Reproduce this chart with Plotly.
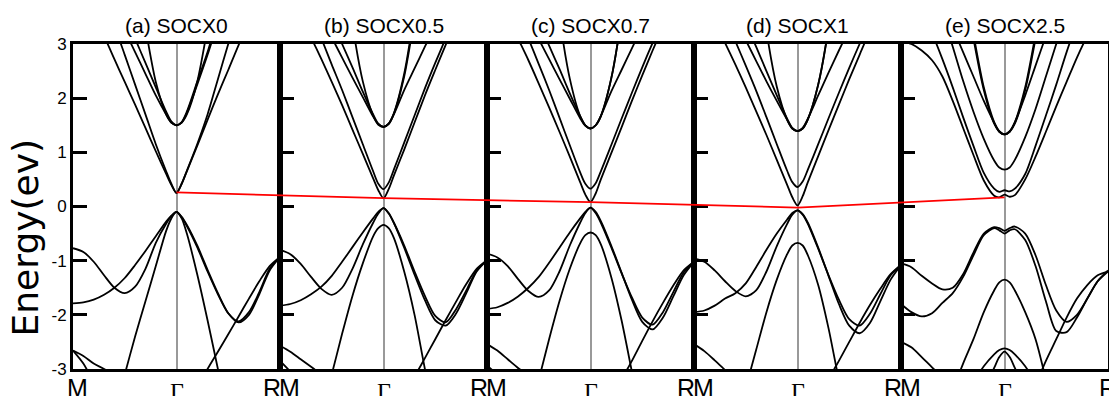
import plotly.graph_objects as go
from plotly.subplots import make_subplots

# k-path sampling: M (0) -> Gamma (1) -> R (2)
K = [0, 0.1, 0.2, 0.3, 0.4, 0.5, 0.6, 0.7, 0.8, 0.9, 0.95, 1.0,
     1.05, 1.1, 1.2, 1.3, 1.4, 1.5, 1.6, 1.7, 1.8, 1.9, 2.0]
N = None

PANEL_TITLES = ["(a) SOCX0", "(b) SOCX0.5", "(c) SOCX0.7", "(d) SOCX1", "(e) SOCX2.5"]
Y_TICKS = [-3, -2, -1, 0, 1, 2, 3]
Y_TICKTEXT = ["-3", "-2", "-1", "0", "1", "2", "3"]
K_LABELS = ["M", "\u0393", "R"]

# red line: band-edge energy at Gamma in each panel
RED_E = [0.26, 0.155, 0.08, -0.02, 0.17]

# ---------------- panel (a) SOCX0 ----------------
a_C1 = [4.3, 3.95, 3.55, 3.15, 2.72, 2.3, 1.88, 1.45, 1.02, 0.6, 0.4, 0.25, 0.42, 0.65, 1.12, 1.6, 2.07, 2.52, 2.98, 3.4, 3.8, 4.2, 4.5]
a_C2 = [5.0, 4.8, 4.5, 4.0, 3.35, 2.8, 2.25, 1.7, 1.15, 0.65, 0.42, 0.25, 0.42, 0.66, 1.15, 1.7, 2.35, 3.0, 3.6, 4.1, 4.5, 4.8, 5.0]
a_C3 = [N, N, N, N, N, 5.5, 4.4, 3.3, 2.3, 1.7, 1.55, 1.5, 1.55, 1.7, 2.3, 3.3, 4.4, 5.5, N, N, N, N, N]
a_C4 = [N, N, N, N, 4.0, 3.55, 3.1, 2.65, 2.2, 1.75, 1.57, 1.5, 1.56, 1.75, 2.3, 2.85, 3.5, 4.1, N, N, N, N, N]
a_C5 = [N, N, N, 4.1, 3.65, 3.25, 2.85, 2.45, 2.05, 1.7, 1.55, 1.5, 1.55, 1.73, 2.25, 2.8, 3.4, 4.0, N, N, N, N, N]
a_V1 = [-0.77, -0.84, -1.02, -1.27, -1.5, -1.6, -1.48, -1.15, -0.67, -0.32, -0.18, -0.1, -0.2, -0.36, -0.75, -1.2, -1.62, -1.97, -2.12, -1.95, -1.58, -1.15, -0.93]
a_V2 = [-1.79, -1.77, -1.72, -1.63, -1.5, -1.32, -1.08, -0.82, -0.55, -0.28, -0.17, -0.1, -0.19, -0.34, -0.72, -1.17, -1.6, -1.97, -2.14, -2.0, -1.62, -1.18, -0.93]
a_V3 = [N, N, N, N, -3.8, -3.1, -2.4, -1.75, -1.1, -0.45, -0.22, -0.1, -0.22, -0.5, -1.25, -2.1, -3.0, -3.9, N, N, N, N, N]
a_V4 = [N, N, N, N, N, N, N, N, N, N, N, N, N, N, -3.4, -3.0, -2.68, -2.36, -2.03, -1.7, -1.38, -1.1, -0.93]
a_V5 = [-2.66, -2.76, -2.9, -3.0, -3.12, -3.25, N, N, N, N, N, N, N, N, N, N, N, N, N, N, N, N, N]
a_V6 = [-2.66, -2.9, -3.25, N, N, N, N, N, N, N, N, N, N, N, N, N, N, N, N, N, N, N, N]

# ---------------- panel (b) SOCX0.5 ----------------
b_C1 = [4.25, 3.9, 3.5, 3.12, 2.72, 2.3, 1.87, 1.42, 0.97, 0.52, 0.3, 0.15, 0.32, 0.57, 1.05, 1.55, 2.05, 2.52, 2.98, 3.42, 3.8, 4.15, 4.45]
b_C2 = [4.7, 4.4, 4.0, 3.55, 3.1, 2.62, 2.15, 1.65, 1.15, 0.65, 0.42, 0.32, 0.44, 0.68, 1.18, 1.68, 2.18, 2.65, 3.1, 3.55, 3.95, 4.3, 4.6]
b_C3 = [N, N, N, N, N, N, 4.8, 3.36, 2.31, 1.68, 1.52, 1.47, 1.53, 1.72, 2.45, 3.6, 5.0, N, N, N, N, N, N]
b_C4 = [N, N, N, N, 3.95, 3.45, 3.0, 2.57, 2.12, 1.7, 1.53, 1.47, 1.53, 1.7, 2.15, 2.55, 2.95, 3.35, 3.8, N, N, N, N]
b_C5 = [N, N, N, 3.9, 3.5, 3.12, 2.75, 2.38, 2.02, 1.66, 1.51, 1.47, 1.52, 1.71, 2.4, 3.5, 4.8, N, N, N, N, N, N]
b_V1 = [-0.8, -0.88, -1.06, -1.3, -1.52, -1.63, -1.5, -1.15, -0.7, -0.3, -0.13, -0.03, -0.13, -0.3, -0.72, -1.2, -1.65, -2.02, -2.14, -1.9, -1.55, -1.18, -0.99]
b_V2 = [-1.83, -1.8, -1.73, -1.62, -1.48, -1.28, -1.02, -0.75, -0.48, -0.22, -0.1, -0.03, -0.12, -0.3, -0.76, -1.26, -1.73, -2.1, -2.2, -1.98, -1.6, -1.2, -0.99]
b_V3 = [N, N, N, N, -3.8, -3.1, -2.35, -1.65, -1.05, -0.55, -0.4, -0.34, -0.4, -0.58, -1.2, -2.0, -3.0, -3.9, N, N, N, N, N]
b_V4 = [N, N, N, N, N, N, N, N, N, N, N, N, N, N, -3.6, -3.15, -2.8, -2.45, -2.1, -1.76, -1.43, -1.15, -0.99]
b_V5 = [-2.57, -2.68, -2.82, -2.96, -3.1, -3.25, N, N, N, N, N, N, N, N, N, N, N, N, N, N, N, N, N]
b_V6 = [-2.85, -3.05, -3.3, N, N, N, N, N, N, N, N, N, N, N, N, N, N, N, N, N, N, N, N]

# ---------------- panel (c) SOCX0.7 ----------------
c_C1 = [4.25, 3.9, 3.5, 3.1, 2.7, 2.27, 1.83, 1.38, 0.92, 0.45, 0.22, 0.08, 0.24, 0.5, 0.98, 1.46, 1.95, 2.42, 2.88, 3.32, 3.75, 4.1, 4.4]
c_C2 = [4.7, 4.4, 4.0, 3.55, 3.1, 2.63, 2.15, 1.64, 1.13, 0.63, 0.42, 0.33, 0.43, 0.65, 1.13, 1.62, 2.1, 2.57, 3.02, 3.45, 3.85, 4.2, 4.5]
c_C3 = [N, N, N, N, N, N, 5.1, 3.5, 2.36, 1.67, 1.5, 1.44, 1.5, 1.67, 2.36, 3.5, 5.1, N, N, N, N, N, N]
c_C4 = [N, N, N, N, 3.92, 3.42, 2.97, 2.54, 2.09, 1.67, 1.5, 1.44, 1.5, 1.67, 2.12, 2.52, 2.92, 3.32, 3.78, N, N, N, N]
c_C5 = [N, N, N, 3.87, 3.47, 3.09, 2.72, 2.35, 1.99, 1.63, 1.49, 1.44, 1.5, 1.67, 2.36, 3.5, 5.1, N, N, N, N, N, N]
c_V1 = [-0.87, -0.94, -1.1, -1.34, -1.56, -1.67, -1.55, -1.2, -0.72, -0.3, -0.12, -0.02, -0.12, -0.3, -0.75, -1.23, -1.68, -2.05, -2.18, -1.95, -1.58, -1.22, -1.02]
c_V2 = [-1.89, -1.86, -1.78, -1.66, -1.5, -1.3, -1.04, -0.76, -0.48, -0.22, -0.1, -0.02, -0.1, -0.27, -0.72, -1.22, -1.72, -2.13, -2.27, -2.05, -1.66, -1.27, -1.02]
c_V3 = [N, N, N, N, -3.9, -3.2, -2.45, -1.75, -1.15, -0.68, -0.53, -0.48, -0.53, -0.7, -1.3, -2.1, -3.05, -4.0, N, N, N, N, N]
c_V4 = [N, N, N, N, N, N, N, N, N, N, N, N, N, N, -3.6, -3.2, -2.85, -2.48, -2.12, -1.78, -1.46, -1.18, -1.02]
c_V5 = [-2.54, -2.66, -2.82, -2.98, -3.12, -3.28, N, N, N, N, N, N, N, N, N, N, N, N, N, N, N, N, N]
c_V6 = [-2.94, -3.1, -3.3, N, N, N, N, N, N, N, N, N, N, N, N, N, N, N, N, N, N, N, N]

# ---------------- panel (d) SOCX1 ----------------
d_C1 = [4.1, 3.78, 3.4, 3.02, 2.62, 2.2, 1.76, 1.32, 0.86, 0.4, 0.17, 0.02, 0.19, 0.45, 0.93, 1.41, 1.88, 2.35, 2.8, 3.25, 3.65, 4.0, 4.3]
d_C2 = [4.7, 4.35, 3.95, 3.5, 3.05, 2.6, 2.14, 1.65, 1.15, 0.66, 0.45, 0.36, 0.46, 0.68, 1.15, 1.63, 2.1, 2.56, 3.0, 3.42, 3.8, 4.15, 4.45]
d_C3 = [N, N, N, N, N, N, 4.7, 3.24, 2.21, 1.6, 1.44, 1.39, 1.44, 1.61, 2.25, 3.3, 4.8, N, N, N, N, N, N]
d_C4 = [N, N, N, N, 3.9, 3.4, 2.95, 2.5, 2.05, 1.62, 1.45, 1.39, 1.45, 1.62, 2.05, 2.47, 2.88, 3.28, 3.7, N, N, N, N]
d_C5 = [N, N, N, 3.85, 3.45, 3.07, 2.69, 2.31, 1.95, 1.6, 1.44, 1.39, 1.44, 1.61, 2.25, 3.3, 4.8, N, N, N, N, N, N]
d_V1 = [-0.96, -1.02, -1.18, -1.38, -1.56, -1.66, -1.55, -1.2, -0.73, -0.32, -0.15, -0.07, -0.15, -0.32, -0.78, -1.27, -1.72, -2.08, -2.2, -1.98, -1.62, -1.27, -1.08]
d_V2 = [-1.95, -1.92, -1.83, -1.7, -1.6, -1.42, -1.12, -0.8, -0.5, -0.24, -0.12, -0.07, -0.14, -0.3, -0.76, -1.28, -1.8, -2.2, -2.34, -2.15, -1.75, -1.35, -1.08]
d_V3 = [N, N, N, N, N, -3.35, -2.65, -1.95, -1.35, -0.88, -0.72, -0.67, -0.72, -0.9, -1.45, -2.25, -3.2, -4.0, N, N, N, N, N]
d_V4 = [N, N, N, N, N, N, N, N, N, N, N, N, N, N, -3.7, -3.2, -2.85, -2.5, -2.15, -1.82, -1.52, -1.25, -1.08]
d_V5 = [-2.54, -2.67, -2.84, -3.02, -3.2, N, N, N, N, N, N, N, N, N, N, N, N, N, N, N, N, N, N]

# ---------------- panel (e) SOCX2.5 ----------------
e_C1 = [3.05, 3.0, 2.88, 2.7, 2.4, 1.95, 1.45, 0.95, 0.48, 0.2, 0.17, 0.22, 0.18, 0.21, 0.5, 0.92, 1.38, 1.85, 2.3, 2.75, 3.15, 3.5, 3.8]
e_C2 = [4.2, 3.95, 3.6, 3.2, 2.72, 2.2, 1.65, 1.12, 0.62, 0.33, 0.27, 0.3, 0.28, 0.33, 0.6, 1.12, 1.68, 2.25, 2.85, 3.4, 3.9, 4.3, 4.6]
e_C6 = [N, N, N, 4.1, 3.55, 2.95, 2.32, 1.75, 1.25, 0.85, 0.72, 0.68, 0.72, 0.86, 1.28, 1.8, 2.4, 3.0, 3.6, N, N, N, N]
e_C3 = [N, N, N, N, N, N, 4.2, 3.1, 2.15, 1.53, 1.38, 1.33, 1.38, 1.53, 2.15, 3.1, 4.2, N, N, N, N, N, N]
e_C3b = [N, N, N, N, N, N, 4.3, 3.18, 2.2, 1.56, 1.39, 1.33, 1.39, 1.56, 2.2, 3.18, 4.3, N, N, N, N, N, N]
e_C4 = [N, N, N, N, N, 3.3, 2.85, 2.4, 1.95, 1.55, 1.38, 1.33, 1.38, 1.55, 2.05, 2.6, 3.15, 3.7, N, N, N, N, N]
e_V1 = [-1.05, -1.12, -1.28, -1.42, -1.53, -1.5, -1.25, -0.85, -0.5, -0.38, -0.4, -0.45, -0.4, -0.37, -0.5, -0.9, -1.45, -1.92, -2.13, -2.0, -1.7, -1.38, -1.18]
e_V2 = [-1.8, -1.95, -2.03, -1.97, -1.78, -1.6, -1.3, -0.9, -0.53, -0.4, -0.44, -0.5, -0.44, -0.42, -0.62, -1.1, -1.75, -2.3, -2.32, -2.05, -1.7, -1.38, -1.2]
e_V3 = [N, N, N, N, N, -3.4, -2.9, -2.45, -1.95, -1.55, -1.4, -1.35, -1.4, -1.55, -1.95, -2.45, -3.2, N, N, N, N, N, N]
e_V4 = [N, N, N, N, N, N, N, N, N, N, N, N, N, N, N, -3.3, -2.85, -2.45, -2.05, -1.7, -1.45, -1.27, -1.2]
e_V5 = [-2.5, -2.6, -2.78, -2.97, -3.15, N, N, N, N, N, N, N, N, N, N, N, N, N, N, N, N, N, N]
e_V7 = [N, N, N, N, N, N, N, -3.25, -2.95, -2.73, -2.65, -2.62, -2.65, -2.73, -2.95, -3.25, N, N, N, N, N, N, N]
e_V8 = [N, N, N, N, N, N, N, N, -3.4, -2.98, -2.78, -2.68, -2.78, -2.98, -3.4, N, N, N, N, N, N, N, N]

PANEL_BANDS = [
    [a_C1, a_C2, a_C3, a_C4, a_C5, a_V1, a_V2, a_V3, a_V4, a_V5, a_V6],
    [b_C1, b_C2, b_C3, b_C4, b_C5, b_V1, b_V2, b_V3, b_V4, b_V5, b_V6],
    [c_C1, c_C2, c_C3, c_C4, c_C5, c_V1, c_V2, c_V3, c_V4, c_V5, c_V6],
    [d_C1, d_C2, d_C3, d_C4, d_C5, d_V1, d_V2, d_V3, d_V4, d_V5],
    [e_C1, e_C2, e_C6, e_C3, e_C3b, e_C4, e_V1, e_V2, e_V3, e_V4, e_V5, e_V7, e_V8],
]

FONT = "Arial, Liberation Sans, sans-serif"
SERIF = "Times New Roman, Liberation Serif, serif"

fig = make_subplots(rows=1, cols=5, horizontal_spacing=0)

for i, bands in enumerate(PANEL_BANDS):
    for band in bands:
        fig.add_trace(go.Scatter(x=K, y=band, mode="lines", showlegend=False,
                                 hoverinfo="skip",
                                 line=dict(color="black", width=1.8, shape="spline", smoothing=0.8)),
                      row=1, col=i + 1)

# red line joining the band edges at Gamma across all panels
fig.add_trace(go.Scatter(x=[1, 3, 5, 7, 9], y=RED_E, mode="lines", showlegend=False,
                         hoverinfo="skip", line=dict(color="#ff0000", width=1.8),
                         xaxis="x6", yaxis="y6"))

for i in range(5):
    fig.update_xaxes(range=[0, 2], showline=True, linewidth=3, linecolor="black", mirror=True,
                     tickvals=[1], ticks="", showticklabels=False, showgrid=True,
                     gridcolor="#999999", gridwidth=1.5, zeroline=False, automargin=False,
                     row=1, col=i + 1)
    fig.update_yaxes(range=[-3, 3], showline=True, linewidth=3, linecolor="black", mirror=True,
                     tickvals=Y_TICKS, ticktext=Y_TICKTEXT, ticks="inside", ticklen=14,
                     tickwidth=3, tickcolor="black", showticklabels=(i == 0),
                     tickfont=dict(family=FONT, size=17, color="black"), automargin=False,
                     showgrid=False, zeroline=False, row=1, col=i + 1)

fig.update_layout(
    xaxis6=dict(domain=[0, 1], range=[0, 10], visible=False, anchor="y6", fixedrange=True,
                automargin=False),
    yaxis6=dict(domain=[0, 1], range=[-3, 3], visible=False, anchor="x6", fixedrange=True,
                automargin=False),
)

annotations = []
for i, title in enumerate(PANEL_TITLES):
    xr = "x" if i == 0 else f"x{i + 1}"
    annotations.append(dict(text=title, xref=f"{xr} domain", x=0.5, yref="paper", y=1,
                            yanchor="middle", yshift=19, showarrow=False,
                            font=dict(family=FONT, size=21, color="black")))
    # k-point labels
    annotations.append(dict(text=K_LABELS[1], xref=xr, x=1, yref="paper", y=0, yanchor="top",
                            yshift=-7, showarrow=False,
                            font=dict(family=SERIF, size=24, color="black")))
    if i == 0:
        annotations.append(dict(text=K_LABELS[0], xref=xr, x=0, xanchor="center", xshift=4,
                                yref="paper", y=0, yanchor="top", yshift=-3, showarrow=False,
                                font=dict(family=FONT, size=25, color="black")))
    else:
        annotations.append(dict(text=K_LABELS[0], xref=xr, x=0, xanchor="left", xshift=-3,
                                yref="paper", y=0, yanchor="top", yshift=-3, showarrow=False,
                                font=dict(family=FONT, size=25, color="black")))
    if i == 4:
        annotations.append(dict(text=K_LABELS[2], xref=xr, x=2, xanchor="center",
                                yref="paper", y=0, yanchor="top", yshift=-3, showarrow=False,
                                font=dict(family=FONT, size=25, color="black")))
    else:
        annotations.append(dict(text=K_LABELS[2], xref=xr, x=2, xanchor="right", xshift=3,
                                yref="paper", y=0, yanchor="top", yshift=-3, showarrow=False,
                                font=dict(family=FONT, size=25, color="black")))

annotations.append(dict(text="Energy(ev)", xref="paper", x=0, xanchor="center", xshift=-48,
                        yref="paper", y=0.5, yanchor="middle", yshift=-31, textangle=-90,
                        showarrow=False, font=dict(family="DejaVu Sans, sans-serif", size=36,
                                                   color="black")))

# the page body has an 8px margin, so the figure is sized/placed to compensate
fig.update_layout(
    width=1109, height=388, autosize=False,
    margin=dict(l=65, r=9, t=36, b=27),
    paper_bgcolor="white", plot_bgcolor="rgba(0,0,0,0)",
    annotations=annotations, showlegend=False,
)

fig.write_html("out.html")
